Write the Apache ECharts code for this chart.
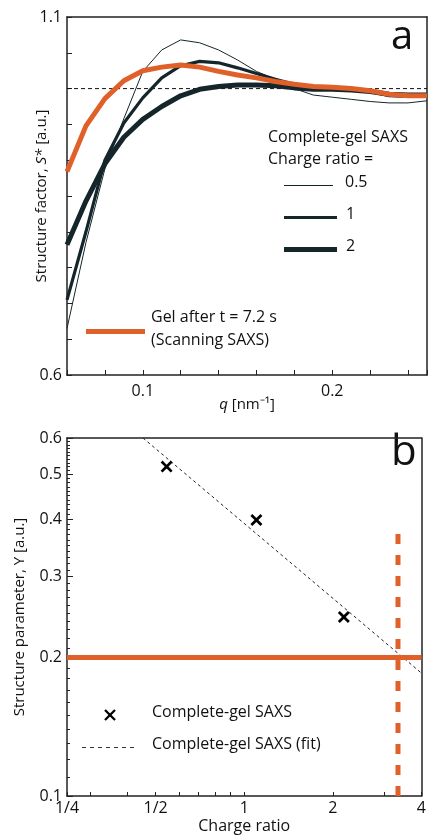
<!DOCTYPE html>
<html lang="en">
<head>
    <meta charset="UTF-8">
    <title>Structure factor / structure parameter</title>
    <script src="https://cdn.jsdelivr.net/npm/echarts@6/dist/echarts.min.js"></script>
    <style>
        html, body { margin: 0; padding: 0; background: #fff; }
    </style>
</head>
<body>
    <div id="chart" style="width: 429px; height: 839px;"></div>
    <script>
        // panel a: S*(q), one q grid shared by every curve
        var qValues = [0.06, 0.07, 0.08, 0.09, 0.10, 0.11, 0.12, 0.13, 0.14, 0.15,
                       0.16, 0.17, 0.18, 0.19, 0.20, 0.21, 0.22, 0.23, 0.24, 0.25];
        var sRatio05 = [0.665, 0.785, 0.888, 0.958, 1.024, 1.054, 1.068, 1.064, 1.054, 1.040,
                        1.024, 1.013, 1.000, 0.991, 0.988, 0.985, 0.982, 0.980, 0.980, 0.983];
        var sRatio1 = [0.705, 0.800, 0.900, 0.952, 0.987, 1.015, 1.032, 1.038, 1.036, 1.029,
                       1.021, 1.013, 1.006, 1.002, 0.999, 0.998, 0.996, 0.990, 0.989, 0.989];
        var sRatio2 = [0.782, 0.843, 0.895, 0.932, 0.957, 0.975, 0.990, 0.999, 1.003, 1.005,
                       1.005, 1.004, 1.001, 0.999, 0.999, 0.998, 0.996, 0.992, 0.991, 0.991];
        var sGel = [0.884, 0.948, 0.986, 1.011, 1.025, 1.030, 1.033, 1.030, 1.024, 1.019,
                    1.015, 1.010, 1.006, 1.003, 1.002, 1.000, 0.997, 0.992, 0.990, 0.990];
        var refQ = [0.06, 0.25];
        var refS = [1.0, 1.0];

        // panel b: Y vs charge ratio
        var ratioPts = [0.545, 1.1, 2.18];
        var yPts = [0.52, 0.398, 0.245];
        var fitRatio = [0.453, 4];
        var fitY = [0.6, 0.185];
        var gelY = 0.2;
        var gelRatio = 3.33;
        var gelRatioTop = 0.39;

        // tick labels
        var qLabels = [0.1, 0.2];
        var sLabels = [0.6, 1.1];
        var ratioLabels = [0.25, 0.5, 1, 2, 4];
        var ratioLabelText = ['1/4', '1/2', '1', '2', '4'];
        var ratioTicks = [0.25, 0.3, 0.4, 0.5, 0.6, 0.7, 0.8, 0.9, 1, 2, 3, 4];
        var yLabels = [0.1, 0.2, 0.3, 0.4, 0.5, 0.6];
        var yMinorTicks = [];
        for (var k = 10; k <= 60; k++) yMinorTicks.push(k / 100);

        var ORANGE = '#e0602a';
        var DARK = '#15262b';
        var AXIS = '#222';
        var FONT = 'Open Sans';
        var CROSS = 'path://M1.6,0L5,3.4L8.4,0L10,1.6L6.6,5L10,8.4L8.4,10L5,6.6L1.6,10L0,8.4L3.4,5L0,1.6Z';

        function zip(xs, ys) {
            return xs.map(function (x, i) { return [x, ys[i]]; });
        }

        // plain axis used only to close the frame (top / right)
        function frameAxis(gridIndex, position) {
            return {
                gridIndex: gridIndex, type: 'value', position: position, min: 0, max: 1,
                axisLine: { show: true, onZero: false, lineStyle: { color: AXIS, width: 1.5 } },
                axisTick: { show: false }, axisLabel: { show: false }, splitLine: { show: false }
            };
        }

        var chart = echarts.init(document.getElementById('chart'));

        var label16 = { color: '#111', fontSize: 16, fontFamily: FONT };

        var option = {
            animation: false,
            textStyle: { fontFamily: FONT },
            grid: [
                { left: 67, top: 17, width: 360, height: 358, show: false },
                { left: 67, top: 438, width: 360, height: 358, show: false }
            ],
            xAxis: [
                {
                    gridIndex: 0, type: 'value', position: 'bottom', min: 0.06, max: 0.25, interval: 0.02,
                    splitLine: { show: false },
                    axisLine: { show: true, onZero: false, lineStyle: { color: AXIS, width: 1.5 } },
                    axisTick: { show: true, inside: true, length: 5, lineStyle: { color: AXIS, width: 1 } },
                    axisLabel: Object.assign({
                        customValues: qLabels, margin: 8,
                        formatter: function (v) { return String(Math.round(v * 10) / 10); }
                    }, label16),
                    name: '{i|q} [nm⁻¹]', nameLocation: 'middle', nameGap: 22, nameMoveOverlap: false,
                    nameTextStyle: {
                        fontSize: 15, fontFamily: FONT, color: '#111',
                        rich: { i: { fontStyle: 'italic', fontSize: 15, fontFamily: FONT, color: '#111' } }
                    }
                },
                {
                    gridIndex: 1, type: 'log', logBase: 2, position: 'bottom', min: 0.25, max: 4,
                    splitLine: { show: false },
                    axisLine: { show: true, onZero: false, lineStyle: { color: AXIS, width: 1.5 } },
                    axisTick: { show: true, inside: true, length: 4, customValues: ratioTicks, lineStyle: { color: AXIS, width: 1 } },
                    axisLabel: Object.assign({
                        customValues: ratioLabels, margin: 4,
                        formatter: function (v) {
                            var i = ratioLabels.findIndex(function (r) { return Math.abs(r - v) < 1e-6; });
                            return i >= 0 ? ratioLabelText[i] : '';
                        }
                    }, label16),
                    name: 'Charge ratio', nameLocation: 'middle', nameGap: 22, nameMoveOverlap: false,
                    nameTextStyle: { fontSize: 16, fontFamily: FONT, color: '#111' }
                },
                frameAxis(0, 'top'),
                frameAxis(1, 'top')
            ],
            yAxis: [
                {
                    gridIndex: 0, type: 'value', position: 'left', min: 0.6, max: 1.1, interval: 0.05,
                    splitLine: { show: false },
                    axisLine: { show: true, onZero: false, lineStyle: { color: AXIS, width: 1.5 } },
                    axisTick: { show: true, inside: true, length: 5, lineStyle: { color: AXIS, width: 1 } },
                    axisLabel: Object.assign({
                        customValues: sLabels, margin: 5,
                        formatter: function (v) { return v.toFixed(1); }
                    }, label16),
                    name: '{n|Structure factor, }{i|S*}{n| [a.u.]}', nameLocation: 'middle', nameGap: 18,
                    nameMoveOverlap: false,
                    nameTextStyle: {
                        fontSize: 15, fontFamily: FONT, color: '#111',
                        rich: {
                            n: { fontSize: 15, fontFamily: FONT, color: '#111' },
                            i: { fontSize: 15, fontFamily: FONT, color: '#111', fontStyle: 'italic' }
                        }
                    }
                },
                {
                    gridIndex: 1, type: 'log', logBase: 10, position: 'left', min: 0.1, max: 0.6,
                    splitLine: { show: false },
                    axisLine: { show: true, onZero: false, lineStyle: { color: AXIS, width: 1.5 } },
                    axisTick: { show: true, inside: true, length: 3, customValues: yMinorTicks, lineStyle: { color: AXIS, width: 1 } },
                    axisLabel: Object.assign({
                        customValues: yLabels, margin: 5,
                        formatter: function (v) { return (Math.round(v * 10) / 10).toFixed(1); }
                    }, label16),
                    name: 'Structure parameter, Y [a.u.]', nameLocation: 'middle', nameGap: 40,
                    nameMoveOverlap: false,
                    nameTextStyle: { fontSize: 15, fontFamily: FONT, color: '#111' }
                },
                {
                    // longer ticks on the labelled values of panel b
                    gridIndex: 1, type: 'log', logBase: 10, position: 'left', min: 0.1, max: 0.6,
                    splitLine: { show: false },
                    axisLine: { show: false, onZero: false },
                    axisTick: { show: true, inside: true, length: 6, customValues: yLabels, lineStyle: { color: AXIS, width: 1 } },
                    axisLabel: { show: false }
                },
                frameAxis(0, 'right'),
                frameAxis(1, 'right')
            ],
            series: [
                {
                    type: 'line', xAxisIndex: 0, yAxisIndex: 0, data: zip(refQ, refS),
                    symbol: 'none', lineStyle: { color: '#111', width: 1, type: [4, 3] }, z: 1
                },
                {
                    name: '0.5', type: 'line', xAxisIndex: 0, yAxisIndex: 0, data: zip(qValues, sRatio05),
                    symbol: 'none', lineStyle: { color: DARK, width: 1 }, z: 2
                },
                {
                    name: '1', type: 'line', xAxisIndex: 0, yAxisIndex: 0, data: zip(qValues, sRatio1),
                    symbol: 'none', lineStyle: { color: DARK, width: 3.2 }, z: 3
                },
                {
                    name: '2', type: 'line', xAxisIndex: 0, yAxisIndex: 0, data: zip(qValues, sRatio2),
                    symbol: 'none', lineStyle: { color: DARK, width: 5 }, z: 4
                },
                {
                    name: 'Gel after t = 7.2 s', type: 'line', xAxisIndex: 0, yAxisIndex: 0, data: zip(qValues, sGel),
                    symbol: 'none', lineStyle: { color: ORANGE, width: 5 }, z: 5
                },
                {
                    type: 'line', xAxisIndex: 1, yAxisIndex: 1, data: zip(fitRatio, fitY),
                    symbol: 'none', lineStyle: { color: '#222', width: 1, type: [3, 3] }, z: 2
                },
                {
                    type: 'line', xAxisIndex: 1, yAxisIndex: 1, data: [[0.25, gelY], [4, gelY]],
                    symbol: 'none', lineStyle: { color: ORANGE, width: 5 }, z: 3
                },
                {
                    type: 'line', xAxisIndex: 1, yAxisIndex: 1, data: [[gelRatio, 0.1], [gelRatio, gelRatioTop]],
                    symbol: 'none', lineStyle: { color: ORANGE, width: 5, type: [10, 11] }, z: 3
                },
                {
                    type: 'scatter', xAxisIndex: 1, yAxisIndex: 1, data: zip(ratioPts, yPts),
                    symbol: CROSS, symbolSize: 12, itemStyle: { color: '#000', opacity: 1 }, z: 4
                }
            ],
            graphic: [
                // panel letters
                { type: 'text', left: 391, top: 18, style: { text: 'a', font: '40px "Open Sans"', fill: '#111' } },
                { type: 'text', left: 391, top: 432, style: { text: 'b', font: '42px "Open Sans"', fill: '#111' } },
                // panel a legend
                { type: 'text', left: 268, top: 129, style: { text: 'Complete-gel SAXS', font: '16px "Open Sans"', fill: '#111' } },
                { type: 'text', left: 268, top: 151, style: { text: 'Charge ratio =', font: '16px "Open Sans"', fill: '#111' } },
                { type: 'line', shape: { x1: 284, y1: 185.5, x2: 333, y2: 185.5 }, style: { stroke: DARK, lineWidth: 1 } },
                { type: 'text', left: 345, top: 174, style: { text: '0.5', font: '16px "Open Sans"', fill: '#111' } },
                { type: 'line', shape: { x1: 284, y1: 217.5, x2: 337, y2: 217.5 }, style: { stroke: DARK, lineWidth: 3.2 } },
                { type: 'text', left: 346, top: 206, style: { text: '1', font: '16px "Open Sans"', fill: '#111' } },
                { type: 'line', shape: { x1: 284, y1: 249.5, x2: 337, y2: 249.5 }, style: { stroke: DARK, lineWidth: 5 } },
                { type: 'text', left: 346, top: 238, style: { text: '2', font: '16px "Open Sans"', fill: '#111' } },
                { type: 'line', shape: { x1: 86, y1: 331.5, x2: 145, y2: 331.5 }, style: { stroke: ORANGE, lineWidth: 5 } },
                { type: 'text', left: 151, top: 309, style: { text: 'Gel after t = 7.2 s', font: '16px "Open Sans"', fill: '#111' } },
                { type: 'text', left: 151, top: 332, style: { text: '(Scanning SAXS)', font: '16px "Open Sans"', fill: '#111' } },
                // panel b legend
                { type: 'line', shape: { x1: 105, y1: 710, x2: 115, y2: 720 }, style: { stroke: '#000', lineWidth: 2.3 } },
                { type: 'line', shape: { x1: 115, y1: 710, x2: 105, y2: 720 }, style: { stroke: '#000', lineWidth: 2.3 } },
                { type: 'text', left: 152, top: 704, style: { text: 'Complete-gel SAXS', font: '16px "Open Sans"', fill: '#111' } },
                { type: 'line', shape: { x1: 82, y1: 747.5, x2: 137, y2: 747.5 }, style: { stroke: '#333', lineWidth: 1, lineDash: [4, 4] } },
                { type: 'text', left: 152, top: 736, style: { text: 'Complete-gel SAXS (fit)', font: '16px "Open Sans"', fill: '#111' } }
            ]
        };

        chart.setOption(option);
    </script>
</body>
</html>
